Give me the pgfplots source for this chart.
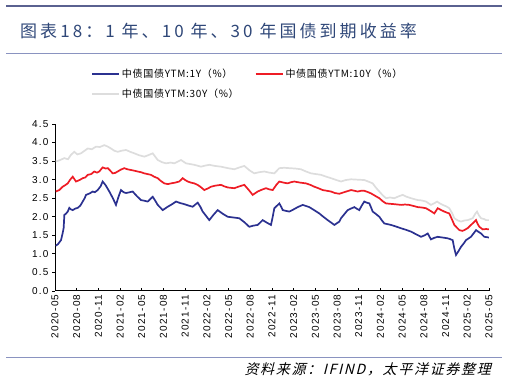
\documentclass[border=0pt]{standalone}
\usepackage{pgfplots}
\pgfplotsset{compat=1.18}
\usepackage{fontspec}
\setmainfont{Liberation Sans}
\newfontfamily\cjk[LetterSpace=7]{Noto Sans CJK SC}
\newfontfamily\titlefont[LetterSpace=18]{Noto Sans CJK SC}
\newfontfamily\srcfont[FakeSlant=0.25,LetterSpace=12]{Noto Sans CJK SC}
\newfontfamily\tickfont[LetterSpace=12]{Liberation Sans}
\definecolor{c1}{HTML}{2B3190}
\definecolor{c10}{HTML}{EE1C25}
\definecolor{c30}{HTML}{DDDDDD}
\definecolor{rulec}{HTML}{5A6190}
\definecolor{rulel}{HTML}{8A93C0}
\definecolor{titlec}{HTML}{2F4778}
\begin{document}
\begin{tikzpicture}[x=1pt,y=1pt]
\path (0,0) rectangle (507,385);
\fill[rulec] (6,377.5) rectangle (502,380);
\draw[rulel, line width=0.8pt] (6,332) -- (502,332);
\draw[rulel, line width=0.8pt] (6,28) -- (502,28);
\node[anchor=base west, inner sep=0pt, text=titlec, font=\titlefont\fontsize{17}{17}\selectfont] at (20,347) {图表18：1 年、10 年、30 年国债到期收益率};
\node[anchor=base east, inner sep=0pt, font=\srcfont\fontsize{14}{14}\selectfont] at (491,10) {资料来源：IFIND，太平洋证券整理};
\begin{axis}[
  at={(55pt,94pt)}, anchor=origin, scale only axis,
  width=434pt, height=167pt,
  xmin=0, xmax=60, ymin=0, ymax=4.5,
  axis x line*=bottom, axis y line*=left,
  axis line style={-, line width=1pt, black},
  xtick={0,3,...,60},
  xticklabels={2020-05,2020-08,2020-11,2021-02,2021-05,2021-08,2021-11,2022-02,2022-05,2022-08,2022-11,2023-02,2023-05,2023-08,2023-11,2024-02,2024-05,2024-08,2024-11,2025-02,2025-05},
  ytick={0,0.5,...,4.5},
  xtick align=inside, ytick align=outside,
  major tick length=3pt,
  tick style={black, line width=0.8pt},
  xticklabel style={rotate=90, anchor=east, font=\tickfont\fontsize{10}{10}\selectfont},
  yticklabel style={font=\tickfont\fontsize{10}{10}\selectfont},
  /pgf/number format/.cd, fixed, fixed zerofill, precision=1, assume math mode=true,
  /pgfplots/.cd,
  legend columns=2,
  legend style={at={(0.076,1.355)}, anchor=north west, draw=none, fill=none,
    font=\cjk\fontsize{10}{12}\selectfont, row sep=6pt,
    /tikz/every even column/.append style={column sep=14pt}},
  legend cell align=left,
  legend image code/.code={\draw[#1, line width=1.8pt] (0pt,0pt) -- (27pt,0pt);},
]
\addplot[c1, line width=1.7pt] coordinates {
(0.1,1.22) (0.4,1.26) (0.83,1.37) (1.05,1.55) (1.20,1.70) (1.29,2.05) (1.5,2.08) (1.76,2.14) (1.98,2.24) (2.2,2.20) (2.45,2.18) (2.8,2.22) (3.14,2.24) (3.5,2.30) (3.83,2.41) (4.1,2.50) (4.29,2.59) (4.8,2.63) (5.21,2.68) (5.5,2.66) (5.90,2.72) (6.3,2.82) (6.59,2.95) (7.0,2.85) (7.51,2.68) (8.0,2.50) (8.43,2.32) (8.8,2.55) (9.12,2.72) (9.5,2.66) (9.82,2.64) (10.3,2.66) (10.74,2.68) (11.3,2.56) (11.89,2.45) (12.4,2.43) (12.82,2.41) (13.2,2.48) (13.51,2.54) (13.9,2.42) (14.20,2.32) (14.6,2.24) (14.89,2.18) (15.2,2.22) (15.58,2.27) (16.2,2.34) (16.73,2.41) (17.3,2.37) (17.88,2.34) (18.5,2.30) (19.04,2.27) (19.4,2.33) (19.73,2.38) (20.09,2.27) (20.42,2.14) (20.9,2.02) (21.33,1.91) (21.9,2.05) (22.49,2.18) (23.2,2.08) (23.88,2.00) (24.7,1.98) (25.48,1.96) (26.2,1.85) (26.86,1.73) (27.4,1.76) (28.02,1.78) (28.4,1.85) (28.71,1.91) (29.3,1.84) (29.86,1.78) (30.1,2.00) (30.32,2.23) (30.7,2.30) (31.01,2.36) (31.3,2.26) (31.48,2.18) (31.9,2.16) (32.39,2.14) (33.0,2.20) (33.55,2.26) (34.25,2.32) (34.7,2.29) (35.16,2.26) (35.9,2.17) (36.54,2.09) (37.1,2.00) (37.70,1.91) (38.2,1.84) (38.62,1.78) (39.0,1.83) (39.31,1.87) (39.54,1.96) (40.0,2.07) (40.47,2.18) (40.9,2.22) (41.38,2.26) (41.7,2.22) (42.07,2.18) (42.4,2.30) (42.76,2.41) (43.1,2.38) (43.46,2.36) (43.7,2.25) (43.92,2.14) (44.4,2.07) (44.84,2.00) (45.2,1.90) (45.53,1.82) (46.0,1.80) (46.45,1.78) (47.1,1.74) (47.84,1.69) (48.5,1.65) (49.22,1.60) (49.9,1.53) (50.60,1.46) (51.1,1.50) (51.53,1.55) (51.98,1.39) (52.4,1.43) (52.91,1.46) (53.6,1.44) (54.29,1.42) (54.6,1.40) (54.98,1.37) (55.2,1.15) (55.44,0.97) (55.8,1.08) (56.13,1.19) (56.5,1.28) (56.82,1.37) (57.2,1.42) (57.51,1.46) (57.9,1.56) (58.21,1.64) (58.5,1.60) (58.90,1.55) (59.35,1.46) (59.7,1.45) (60.0,1.44)
};
\addlegendentry{中债国债YTM:1Y（\%）}
\addplot[c10, line width=1.7pt] coordinates {
(0.1,2.68) (0.6,2.72) (1.06,2.81) (1.4,2.85) (1.76,2.90) (2.1,3.00) (2.45,3.08) (2.90,2.95) (3.4,2.99) (3.83,3.04) (4.2,3.06) (4.52,3.13) (5.0,3.15) (5.43,3.22) (5.8,3.19) (6.12,3.22) (6.59,3.33) (7.0,3.30) (7.29,3.31) (7.6,3.25) (7.98,3.17) (8.3,3.18) (8.67,3.22) (9.1,3.27) (9.58,3.31) (10.0,3.28) (10.51,3.26) (11.0,3.24) (11.43,3.22) (11.9,3.20) (12.35,3.17) (12.8,3.15) (13.27,3.13) (13.7,3.08) (14.20,3.04) (14.6,2.97) (15.11,2.90) (15.6,2.88) (16.04,2.90) (16.6,2.92) (17.18,2.95) (17.65,3.04) (18.0,2.99) (18.35,2.95) (18.8,2.92) (19.26,2.90) (19.7,2.86) (20.09,2.81) (20.64,2.72) (21.1,2.76) (21.57,2.81) (22.2,2.84) (22.95,2.86) (23.4,2.82) (23.88,2.79) (24.3,2.78) (24.79,2.77) (25.5,2.82) (26.17,2.86) (26.8,2.72) (27.33,2.59) (28.02,2.68) (28.6,2.73) (29.17,2.77) (29.6,2.74) (30.10,2.72) (30.6,2.86) (31.01,2.95) (31.6,2.92) (32.17,2.90) (32.6,2.93) (33.08,2.95) (33.9,2.92) (34.70,2.90) (35.3,2.86) (35.85,2.81) (36.4,2.77) (37.01,2.72) (37.6,2.70) (38.16,2.68) (38.7,2.64) (39.31,2.62) (40.1,2.67) (40.93,2.72) (41.4,2.70) (41.85,2.68) (42.3,2.70) (42.76,2.70) (43.2,2.67) (43.69,2.63) (44.3,2.56) (44.84,2.50) (45.3,2.42) (45.76,2.36) (46.3,2.35) (46.91,2.34) (47.84,2.32) (48.4,2.33) (48.98,2.32) (49.6,2.29) (50.15,2.26) (50.7,2.25) (51.29,2.23) (51.9,2.16) (52.44,2.09) (52.91,2.23) (53.4,2.18) (53.82,2.14) (54.2,2.11) (54.51,2.09) (54.9,1.92) (55.21,1.78) (55.6,1.70) (55.90,1.64) (56.3,1.62) (56.59,1.64) (57.1,1.70) (57.51,1.78) (57.9,1.85) (58.21,1.91) (58.45,1.80) (58.67,1.73) (59.13,1.66) (59.6,1.67) (60.0,1.66)
};
\addlegendentry{中债国债YTM:10Y（\%）}
\addplot[c30, line width=1.7pt] coordinates {
(0.1,3.49) (0.6,3.52) (1.29,3.58) (1.8,3.55) (2.21,3.67) (2.67,3.75) (3.1,3.68) (3.59,3.71) (4.1,3.78) (4.52,3.84) (5.1,3.82) (5.67,3.89) (6.2,3.88) (6.82,3.93) (7.3,3.89) (7.74,3.84) (8.2,3.78) (8.67,3.75) (9.2,3.78) (9.82,3.80) (10.4,3.75) (10.96,3.71) (11.6,3.66) (12.35,3.62) (12.9,3.66) (13.51,3.71) (14.20,3.53) (14.8,3.47) (15.35,3.44) (16.0,3.46) (16.49,3.44) (17.42,3.53) (18.11,3.44) (18.7,3.42) (19.26,3.40) (20.19,3.35) (20.8,3.38) (21.33,3.40) (22.1,3.37) (22.95,3.35) (23.9,3.31) (24.79,3.28) (25.5,3.33) (26.17,3.37) (26.9,3.25) (27.55,3.17) (28.2,3.20) (28.94,3.22) (29.6,3.19) (30.32,3.17) (31.01,3.31) (31.7,3.32) (32.39,3.31) (33.2,3.30) (34.01,3.28) (34.7,3.22) (35.39,3.17) (36.1,3.15) (36.78,3.13) (37.5,3.08) (38.16,3.04) (38.9,2.99) (39.54,2.95) (40.2,2.99) (40.93,3.01) (41.8,3.00) (42.76,2.99) (43.3,2.95) (43.92,2.90) (44.3,2.80) (44.84,2.68) (45.3,2.58) (45.76,2.50) (46.3,2.52) (46.91,2.50) (47.5,2.55) (48.07,2.59) (48.6,2.54) (49.22,2.50) (50.15,2.45) (50.7,2.44) (51.29,2.41) (51.98,2.32) (52.4,2.36) (52.82,2.41) (53.2,2.36) (53.60,2.32) (54.1,2.28) (54.51,2.23) (54.9,2.10) (55.21,1.96) (55.7,1.90) (56.13,1.87) (56.6,1.90) (57.06,1.91) (57.75,1.96) (58.1,2.08) (58.35,2.14) (58.6,2.04) (58.90,1.96) (59.3,1.94) (59.60,1.91) (60.0,1.91)
};
\addlegendentry{中债国债YTM:30Y（\%）}
\end{axis}
\end{tikzpicture}
\end{document}
